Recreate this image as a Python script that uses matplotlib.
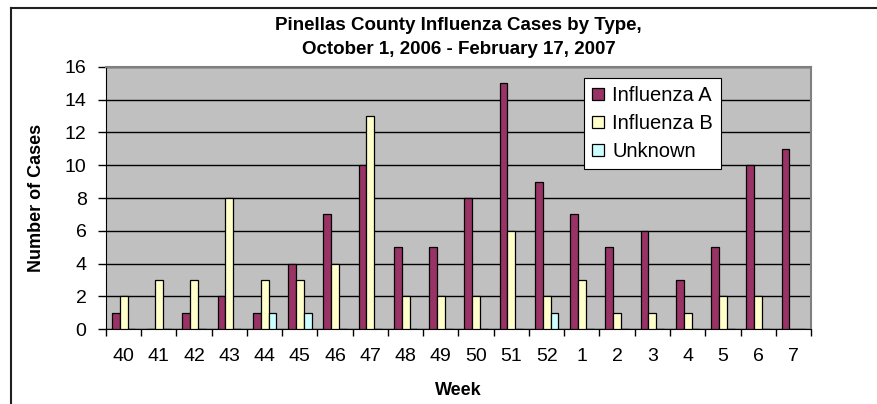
import matplotlib
matplotlib.use("Agg")
import matplotlib.pyplot as plt
import numpy as np
from matplotlib.lines import Line2D

plt.rcParams['font.family'] = ['Liberation Sans', 'DejaVu Sans']

weeks = ['40', '41', '42', '43', '44', '45', '46', '47', '48', '49',
         '50', '51', '52', '1', '2', '3', '4', '5', '6', '7']
flu_a = [1, 0, 1, 2, 1, 4, 7, 10, 5, 5, 8, 15, 9, 7, 5, 6, 3, 5, 10, 11]
flu_b = [2, 3, 3, 8, 3, 3, 4, 13, 2, 2, 2, 6, 2, 3, 1, 1, 1, 2, 2, 0]
unknown = [0, 0, 0, 0, 1, 1, 0, 0, 0, 0, 0, 0, 1, 0, 0, 0, 0, 0, 0, 0]

series = [('Influenza A', flu_a, '#993366'),
          ('Influenza B', flu_b, '#FFFFCC'),
          ('Unknown', unknown, '#CCFFFF')]

fig = plt.figure(figsize=(8.78, 4.04), dpi=100)
ax = fig.add_axes([0.1207, 0.1856, 0.803, 0.6486])
ax.set_facecolor('#C0C0C0')

x = np.arange(len(weeks))
w = 1 / 4.5
for i, (name, vals, col) in enumerate(series):
    ax.bar(x - w + i * w, vals, width=w, color=col, edgecolor='black',
           linewidth=0.9, label=name, zorder=3)

ax.set_xlim(-0.5, len(weeks) - 0.5)
ax.set_ylim(0, 16)
ax.set_yticks(range(0, 17, 2))
ax.yaxis.grid(True, color='black', linewidth=1, zorder=1)
ax.set_axisbelow(True)

ax.set_xticks(x)
ax.set_xticklabels(weeks)
ax.set_xticks(np.arange(-0.5, len(weeks), 1), minor=True)
ax.tick_params(axis='x', which='major', length=0, pad=14, labelsize=14)
ax.tick_params(axis='x', which='minor', length=5, width=1, direction='out')
ax.tick_params(axis='y', length=6, width=1, direction='out', pad=8, labelsize=14)

for s in ['top', 'right']:
    ax.spines[s].set_color('#808080')
    ax.spines[s].set_linewidth(1.5)
for s in ['left', 'bottom']:
    ax.spines[s].set_color('black')

ax.set_xlabel('Week', fontsize=13, fontweight='bold', labelpad=12)
ax.set_ylabel('Number of Cases', fontsize=13, fontweight='bold', labelpad=14)
ax.set_title('Pinellas County Influenza Cases by Type,\nOctober 1, 2006 - February 17, 2007',
             fontsize=13.5, fontweight='bold', linespacing=1.6, pad=9)

leg = ax.legend(loc='upper left', bbox_to_anchor=(0.678, 0.958), fontsize=14.5,
                frameon=True, fancybox=False, framealpha=1, edgecolor='black',
                handlelength=0.6, handleheight=0.6, handletextpad=0.4,
                borderpad=0.4, labelspacing=0.45, borderaxespad=0)
leg.get_frame().set_linewidth(0.8)

# outer chart border (cut at right and bottom)
fig.add_artist(Line2D([0.0125, 1.0], [0.981, 0.981], color='#202020', lw=1.5,
                      transform=fig.transFigure))
fig.add_artist(Line2D([0.0125, 0.0125], [0.0, 0.981], color='#202020', lw=1.5,
                      transform=fig.transFigure))

fig.savefig('out.png', dpi=100)
